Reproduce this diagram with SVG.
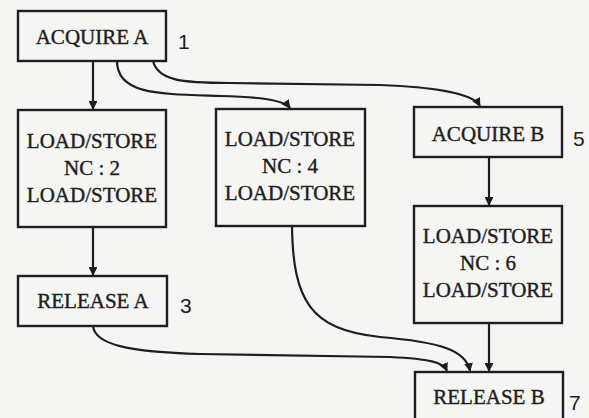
<svg xmlns="http://www.w3.org/2000/svg" width="589" height="418" viewBox="0 0 589 418">
<style>
.box{fill:none;stroke:#1e1e1e;stroke-width:2.4}
.t{font-family:"Liberation Serif","Times New Roman",serif;font-size:21px;fill:#1e1e1e;text-anchor:middle;stroke:#1e1e1e;stroke-width:0.4}
.n{font-family:"Liberation Sans",Arial,sans-serif;font-size:21px;fill:#1e1e1e}
.c{fill:none;stroke:#1e1e1e;stroke-width:2.2;marker-end:url(#ah)}
</style>
<defs>
<marker id="ah" viewBox="0 0 10 10" refX="9" refY="5" markerWidth="4" markerHeight="4" orient="auto" markerUnits="strokeWidth">
<path d="M0,0 L10,5 L0,10 z" fill="#1e1e1e"/>
</marker>
</defs>
<rect width="589" height="418" fill="#f5f5f3"/>
<g id="n1">
<rect class="box" x="18" y="11" width="148" height="50"/>
<text class="t" x="92" y="44">ACQUIRE A</text>
<text class="n" x="178" y="49">1</text>
</g>
<g id="n2">
<rect class="box" x="18" y="110" width="148" height="117"/>
<text class="t" x="92" y="148">LOAD/STORE</text>
<text class="t" x="92" y="175">NC : 2</text>
<text class="t" x="92" y="202">LOAD/STORE</text>
</g>
<g id="n3">
<rect class="box" x="18" y="276" width="149" height="50"/>
<text class="t" x="93" y="308">RELEASE A</text>
<text class="n" x="180" y="313">3</text>
</g>
<g id="n4">
<rect class="box" x="216" y="109" width="149" height="117"/>
<text class="t" x="290" y="146">LOAD/STORE</text>
<text class="t" x="290" y="173">NC : 4</text>
<text class="t" x="290" y="200">LOAD/STORE</text>
</g>
<g id="n5">
<rect class="box" x="414" y="107" width="148" height="50"/>
<text class="t" x="488" y="141">ACQUIRE B</text>
<text class="n" x="573" y="146">5</text>
</g>
<g id="n6">
<rect class="box" x="414" y="206" width="148" height="117"/>
<text class="t" x="488" y="243">LOAD/STORE</text>
<text class="t" x="488" y="270">NC : 6</text>
<text class="t" x="488" y="297">LOAD/STORE</text>
</g>
<g id="n7">
<rect class="box" x="415" y="372" width="148" height="52"/>
<text class="t" x="489" y="404">RELEASE B</text>
<text class="n" x="569" y="410">7</text>
</g>
<g id="connectors">
<path class="c" d="M93,61 L93,109"/>
<path class="c" d="M117,61 C117,95 160,94 220,96 C255,97 283,99 290,108"/>
<path class="c" d="M153,61 C158,80 180,83 230,83 L380,85 C430,87 472,92 480,106"/>
<path class="c" d="M489,157 L489,205"/>
<path class="c" d="M93,227 L93,275"/>
<path class="c" d="M93,326 C95,345 130,352 200,354 L390,357 C430,359 443,362 447,371"/>
<path class="c" d="M292,226 C293,300 310,330 380,337 C440,342 466,350 470,371"/>
<path class="c" d="M489,323 L489,371"/>
</g>
</svg>
